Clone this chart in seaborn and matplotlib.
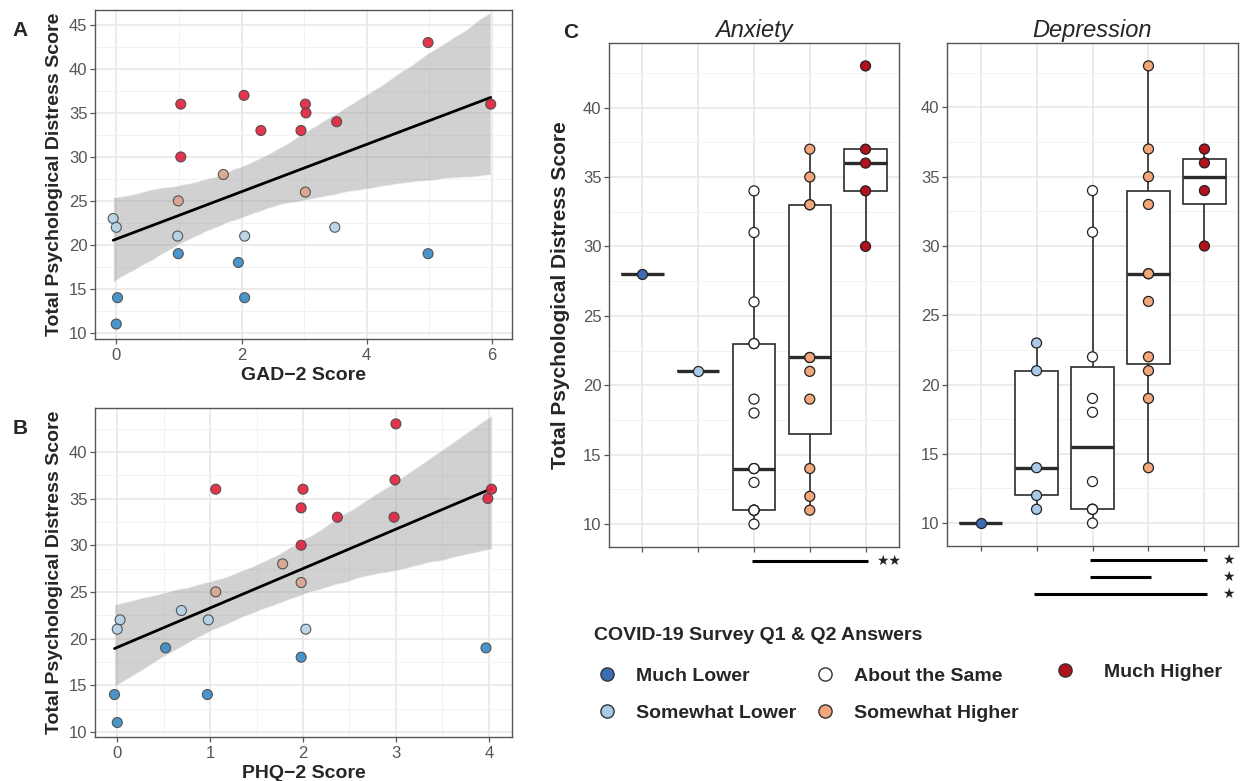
import matplotlib

matplotlib.use("Agg")
import matplotlib.pyplot as plt
import matplotlib.transforms as mtransforms
import numpy as np
import pandas as pd
import seaborn as sns
from matplotlib.lines import Line2D
from matplotlib.ticker import MultipleLocator

# survey answer categories (panel C + legend)
CATEGORIES = ["Much Lower", "Somewhat Lower", "About the Same", "Somewhat Higher", "Much Higher"]
CAT_COLORS = ["#3c6cb4", "#a8cbe9", "#ffffff", "#f2a679", "#b3111c"]

# colour groups used in the two scatter panels
SCATTER_GROUPS = ["high", "mid-high", "mid-low", "low"]
SCATTER_COLORS = ["#e3243f", "#d8a58d", "#b4d4e8", "#3a8cc6"]

# panel A: GAD-2 vs total distress
gad_x = [1.03, 1.03, 2.04, 2.31, 3.02, 3.03, 2.95, 3.52, 4.98, 5.98,
         1.71, 0.99, 3.02,
         -0.05, 0.0, 0.98, 2.05, 3.49,
         0.99, 0.02, 0.0, 1.95, 2.05, 4.98]
gad_y = [36, 30, 37, 33, 36, 35, 33, 34, 43, 36,
         28, 25, 26,
         23, 22, 21, 21, 22,
         19, 14, 11, 18, 14, 19]
gad_group = ["high"] * 10 + ["mid-high"] * 3 + ["mid-low"] * 5 + ["low"] * 6

# panel B: PHQ-2 vs total distress
phq_x = [1.06, 2.0, 1.98, 2.37, 3.0, 2.99, 4.03, 3.99, 2.98, 1.98,
         1.78, 1.06, 1.98,
         0.03, 0.0, 0.69, 0.98, 2.03,
         0.52, -0.03, 0.0, 0.97, 1.98, 3.97]
phq_y = [36, 36, 34, 33, 43, 37, 36, 35, 33, 30,
         28, 25, 26,
         22, 21, 23, 22, 21,
         19, 14, 11, 14, 18, 19]
phq_group = ["high"] * 10 + ["mid-high"] * 3 + ["mid-low"] * 5 + ["low"] * 6

# panel C: anxiety answers
anx_much_lower = [28]
anx_somewhat_lower = [21]
anx_same = [10, 11, 11, 11, 11, 13, 14, 14, 14, 18, 19, 23, 23, 26, 31, 34]
anx_somewhat_higher = [11, 12, 14, 19, 21, 22, 22, 33, 33, 35, 37]
anx_much_higher = [30, 34, 36, 37, 43]

# panel C: depression answers
dep_much_lower = [10]
dep_somewhat_lower = [11, 12, 14, 21, 23]
dep_same = [10, 11, 11, 11, 13, 18, 19, 22, 31, 34]
dep_somewhat_higher = [14, 19, 21, 22, 26, 28, 28, 33, 35, 37, 43]
dep_much_higher = [30, 34, 36, 37]

# significance comparisons (index of category pairs, label)
anx_sig = [(2, 4, "\u2605\u2605")]
dep_sig = [(2, 4, "\u2605"), (2, 3, "\u2605"), (1, 4, "\u2605")]

YLABEL = "Total Psychological Distress Score"
LEGEND_TITLE = "COVID-19 Survey Q1 & Q2 Answers"
TICK_COLOR = "#555555"
FRAME_COLOR = "#555555"

sns.set_theme(style="white")
plt.rcParams.update({
    "font.family": ["Liberation Sans", "DejaVu Sans"],
    "xtick.bottom": True,
    "ytick.left": True,
    "xtick.major.size": 3.5,
    "ytick.major.size": 3.5,
    "xtick.major.width": 0.9,
    "ytick.major.width": 0.9,
    "xtick.color": FRAME_COLOR,
    "ytick.color": FRAME_COLOR,
    "xtick.major.pad": 3,
    "ytick.major.pad": 2,
})


def style_axes(ax, xminor=None, yminor=2.5):
    if xminor is not None:
        ax.xaxis.set_minor_locator(MultipleLocator(xminor))
    if yminor is not None:
        ax.yaxis.set_minor_locator(MultipleLocator(yminor))
    ax.set_axisbelow(True)
    ax.grid(True, which="major", color="#e6e6e6", linewidth=1.1)
    ax.grid(True, which="minor", color="#f2f2f2", linewidth=0.7)
    ax.tick_params(which="minor", length=0)
    ax.tick_params(which="major", labelsize=12, labelcolor=TICK_COLOR)
    for spine in ax.spines.values():
        spine.set_visible(True)
        spine.set_color(FRAME_COLOR)
        spine.set_linewidth(1.0)


def draw_scatter_panel(ax, x, y, groups, xlabel, xlim, ylim, xmajor, xminor, yticks):
    sns.regplot(x=np.array(x, dtype=float), y=np.array(y, dtype=float), scatter=False,
                ci=95, color="black", line_kws={"linewidth": 2.0}, seed=7, ax=ax)
    band = ax.collections[0]
    band.set_facecolor("#9a9a9a")
    band.set_alpha(0.45)
    sns.scatterplot(x=x, y=y, hue=groups, hue_order=SCATTER_GROUPS, palette=SCATTER_COLORS,
                    s=52, edgecolor="#4a4a4a", linewidth=0.8, alpha=0.92, legend=False,
                    zorder=3, ax=ax)
    ax.set_xlim(*xlim)
    ax.set_ylim(*ylim)
    ax.xaxis.set_major_locator(MultipleLocator(xmajor))
    ax.set_yticks(yticks)
    style_axes(ax, xminor=xminor)
    ax.set_xlabel(xlabel, fontsize=14, fontweight="bold", labelpad=3)
    ax.set_ylabel(YLABEL, fontsize=14, fontweight="bold", labelpad=4)


def draw_box_panel(ax, groups, title, comparisons, ylabel):
    df = pd.DataFrame({
        "answer": [cat for cat, vals in zip(CATEGORIES, groups) for _ in vals],
        "score": [v for vals in groups for v in vals],
    })
    sns.boxplot(data=df, x="answer", y="score", order=CATEGORIES, color="white",
                linecolor="#2b2b2b", linewidth=1.2, width=0.76, showfliers=False,
                showcaps=False, medianprops={"linewidth": 2.4}, ax=ax)
    sns.stripplot(data=df, x="answer", y="score", hue="answer", order=CATEGORIES,
                  hue_order=CATEGORIES, palette=CAT_COLORS, jitter=False, size=7.2,
                  edgecolor="#222222", linewidth=0.9, legend=False, zorder=3, ax=ax)
    ax.set_xlim(-0.6, len(CATEGORIES) - 0.4)
    ax.set_ylim(8.35, 44.65)
    ax.set_yticks([10, 15, 20, 25, 30, 35, 40])
    style_axes(ax)
    ax.set_xticklabels([])
    ax.set_xlabel("")
    ax.set_title(title, fontsize=17, fontstyle="italic", pad=4)
    if ylabel:
        ax.set_ylabel(YLABEL, fontsize=15, fontweight="bold", labelpad=9)
    else:
        ax.set_ylabel("")

    trans = mtransforms.blended_transform_factory(ax.transData, ax.transAxes)
    star_x = len(CATEGORIES) - 1 + 0.42
    for i, (a, b, label) in enumerate(comparisons):
        yb = -0.027 - 0.034 * i
        ax.plot([a - 0.04, b + 0.05], [yb, yb], transform=trans, color="black",
                linewidth=2.2, solid_capstyle="butt", clip_on=False)
        ax.text(star_x, yb, label, transform=trans, ha="center", va="center",
                fontsize=10, color="#222222", family=["DejaVu Sans"])


fig = plt.figure(figsize=(12.45, 7.81), dpi=100)
W, H = 1245, 781


def add_axes_px(left, top, right, bottom):
    return fig.add_axes([left / W, 1 - bottom / H, (right - left) / W, (bottom - top) / H])


ax_a = add_axes_px(95, 10, 512, 339)
ax_b = add_axes_px(95, 408, 512, 737)
ax_anx = add_axes_px(609, 43, 899, 547)
ax_dep = add_axes_px(947, 43, 1238, 546)

draw_scatter_panel(ax_a, gad_x, gad_y, gad_group, "GAD\u22122 Score",
                   (-0.34, 6.32), (9.3, 46.7), 2, 1, [10, 15, 20, 25, 30, 35, 40, 45])
draw_scatter_panel(ax_b, phq_x, phq_y, phq_group, "PHQ\u22122 Score",
                   (-0.24, 4.25), (9.45, 44.7), 1, 0.5, [10, 15, 20, 25, 30, 35, 40])

draw_box_panel(ax_anx, [anx_much_lower, anx_somewhat_lower, anx_same,
                        anx_somewhat_higher, anx_much_higher], "Anxiety", anx_sig, True)
draw_box_panel(ax_dep, [dep_much_lower, dep_somewhat_lower, dep_same,
                        dep_somewhat_higher, dep_much_higher], "Depression", dep_sig, False)

for letter, px, py in [("A", 20, 31), ("B", 20, 428), ("C", 571, 32)]:
    fig.text(px / W, 1 - py / H, letter, fontsize=15, fontweight="bold",
             ha="center", va="center")

# legend: title, first two columns, then the last column further right
fig.text(594 / W, 1 - 635 / H, LEGEND_TITLE, fontsize=14, fontweight="bold",
         ha="left", va="center")
handles = [
    Line2D([], [], marker="o", linestyle="", markersize=9.5, markerfacecolor=c,
           markeredgecolor="#333333", markeredgewidth=1.0)
    for c in CAT_COLORS
]
legend_kw = dict(loc="upper left", frameon=False, prop={"size": 14, "weight": "bold"},
                 handlelength=1.0, columnspacing=1.0, labelspacing=1.0,
                 borderpad=0, borderaxespad=0)
fig.legend(handles[:4], CATEGORIES[:4], ncol=2, handletextpad=1.0,
           bbox_to_anchor=(597 / W, 1 - 667 / H), **legend_kw)
fig.legend(handles[4:], CATEGORIES[4:], ncol=1, handletextpad=1.5,
           bbox_to_anchor=(1055 / W, 1 - 663 / H), **legend_kw)

fig.savefig("out.png", dpi=100, facecolor="white")
